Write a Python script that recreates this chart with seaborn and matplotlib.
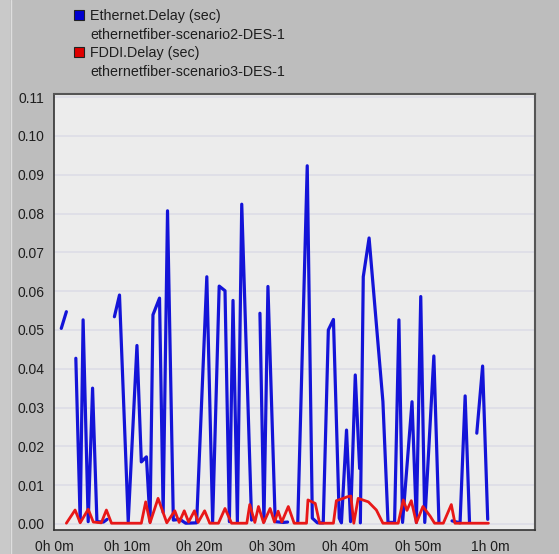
import numpy as np
import pandas as pd
import seaborn as sns
import matplotlib
matplotlib.use("Agg")
import matplotlib.pyplot as plt
from matplotlib.patches import Patch, Rectangle
from matplotlib.lines import Line2D

# time in minutes, delay in seconds; None = gap in the trace
eth_time = [1.0, 1.7, None,
            3.0, 3.6, 4.0, 4.7, 5.3, 5.9, 6.8, 7.3, None,
            8.3, 9.0, 10.2, 11.4, 12.0, 12.7, 13.2, 13.6, 14.5, 15.0, 15.6, 16.4,
            17.3, 18.1, 19.6, 21.0, 21.8, 22.7, 23.5, 24.1, 24.6, 25.2, 25.8, 27.15, None,
            28.3, 28.85, 29.4, 30.4, 31.5, 32.1, None,
            33.5, 34.8, 35.5, 36.2, 37.0, 37.7, 38.4, 39.2, 39.5, 40.2, 40.75, 41.4, 42.0, None,
            42.1, 42.5, 43.3, 45.2, 45.9, 46.8, 47.4, 47.9, 49.2, 49.8, 50.4, 50.95,
            52.2, 52.9, None,
            54.7, 55.8, 56.5, 57.1, None,
            58.1, 58.9, 59.6]
eth_delay = [0.0504, 0.0547, None,
             0.0427, 0.0006, 0.0526, 0.0006, 0.0350, 0.0006, 0.0005, 0.0012, None,
             0.0534, 0.0590, 0.0006, 0.0460, 0.0160, 0.0173, 0.0006, 0.0539, 0.0582, 0.0030, 0.0807, 0.0010,
             0.0012, 0.0002, 0.0003, 0.0637, 0.0006, 0.0613, 0.0601, 0.0006, 0.0576, 0.0006, 0.0824, 0.0010, None,
             0.0543, 0.0006, 0.0612, 0.0006, 0.0004, 0.0005, None,
             0.0004, 0.0923, 0.0015, 0.0003, 0.0003, 0.0500, 0.0527, 0.0015, 0.0003, 0.0242, 0.0006, 0.0384, 0.0143, None,
             0.0003, 0.0637, 0.0737, 0.0315, 0.0004, 0.0004, 0.0526, 0.0004, 0.0315, 0.0004, 0.0586, 0.0004,
             0.0433, 0.0004, None,
             0.0008, 0.0003, 0.0330, 0.0004, None,
             0.0234, 0.0407, 0.0012]

fddi_time = [1.7, 2.9, 3.6, 4.7, 5.4, 6.5, 7.2, 7.9, 12.0, 12.6, 13.2, 14.3, 15.5,
             16.6, 17.2, 17.9, 18.5, 19.3, 19.8, 20.7, 21.4, 22.6, 23.5, 24.4, 26.5,
             26.9, 27.6, 28.1, 28.8, 29.7, 30.3, 30.8, 31.3, 32.2, 33.0, 34.7, 34.9,
             35.9, 36.5, 38.4, 38.8, 39.6, 40.3, 40.8, 41.2, 41.8, 43.2, 44.3, 45.2,
             47.3, 48.0, 48.5, 49.1, 49.8, 50.7, 51.7, 52.3, 53.5, 54.6, 55.1, 59.7]
fddi_delay = [0.0002, 0.0036, 0.0003, 0.0038, 0.0005, 0.0003, 0.0036, 0.0002, 0.0002, 0.0057, 0.0003, 0.0066, 0.0003,
              0.0034, 0.0004, 0.0034, 0.0005, 0.0034, 0.0004, 0.0034, 0.0002, 0.0002, 0.0040, 0.0002, 0.0002,
              0.0050, 0.0004, 0.0045, 0.0003, 0.0040, 0.0005, 0.0033, 0.0005, 0.0045, 0.0002, 0.0002, 0.0062,
              0.0053, 0.0002, 0.0002, 0.0060, 0.0065, 0.0070, 0.0072, 0.0002, 0.0066, 0.0057, 0.0036, 0.0002,
              0.0002, 0.0062, 0.0035, 0.0060, 0.0003, 0.0045, 0.0020, 0.0002, 0.0002, 0.0050, 0.0002, 0.0002]

legend_labels = ["Ethernet.Delay (sec)", "ethernetfiber-scenario2-DES-1",
                 "FDDI.Delay (sec)", "ethernetfiber-scenario3-DES-1"]
x_ticks = [0, 10, 20, 30, 40, 50, 60]
x_ticklabels = ["0h 0m", "0h 10m", "0h 20m", "0h 30m", "0h 40m", "0h 50m", "1h 0m"]
y_ticks = [0.00, 0.01, 0.02, 0.03, 0.04, 0.05, 0.06, 0.07, 0.08, 0.09, 0.10, 0.11]

BLUE = "#1414d8"
RED = "#e81818"


def to_frame(t, v):
    df = pd.DataFrame({"t": t, "v": v}, dtype=float)
    df["seg"] = df["t"].isna().cumsum()
    return df.dropna()


sns.set_style("white")
plt.rcParams["font.family"] = ["Liberation Sans", "DejaVu Sans"]

fig = plt.figure(figsize=(5.59, 5.54), dpi=100)
fig.patch.set_facecolor("#bdbdbd")
# lighter strip at the far left of the window
fig.patches.append(Rectangle((0, 0), 10 / 559, 1, transform=fig.transFigure,
                             facecolor="#c9c9c9", edgecolor="none", zorder=0))
fig.lines.append(Line2D([11 / 559, 11 / 559], [0, 1], transform=fig.transFigure,
                        color="#dedede", lw=1))

ax = fig.add_axes([54 / 559, 1 - 530 / 554, 481 / 559, 436 / 554])
ax.set_facecolor("#ececec")

eth = to_frame(eth_time, eth_delay)
fddi = to_frame(fddi_time, fddi_delay)

sns.lineplot(data=fddi, x="t", y="v", units="seg", estimator=None, sort=False,
             color=RED, lw=2.0, ax=ax, zorder=3)
sns.lineplot(data=eth, x="t", y="v", units="seg", estimator=None, sort=False,
             color=BLUE, lw=2.3, ax=ax, zorder=2)

ax.set_xlim(0, 66.1)
ax.set_ylim(-0.00155, 0.1108)
ax.set_xticks(x_ticks)
ax.set_xticklabels(x_ticklabels)
ax.set_yticks(y_ticks)
ax.set_yticklabels([f"{y:.2f}" for y in y_ticks])
ax.set_xlabel("")
ax.set_ylabel("")

ax.yaxis.grid(True, color="#dcdce6", lw=1.1)
ax.set_axisbelow(True)
ax.tick_params(axis="both", direction="out", length=5, width=1, color="#333333",
               labelsize=10, labelcolor="#1e1e1e", pad=2)
for side in ["left", "bottom"]:
    ax.spines[side].set_color("#333333")
    ax.spines[side].set_linewidth(1.2)
for side in ["top", "right"]:
    ax.spines[side].set_color("#555555")
    ax.spines[side].set_linewidth(1.5)

handles = [Patch(facecolor="#0000d0", edgecolor="#222222", lw=0.8),
           Patch(facecolor="none", edgecolor="none"),
           Patch(facecolor="#e00000", edgecolor="#222222", lw=0.8),
           Patch(facecolor="none", edgecolor="none")]
fig.legend(handles, legend_labels, loc="upper left", bbox_to_anchor=(67 / 559, 1 - 2 / 554),
           frameon=False, fontsize=10.3, handlelength=0.7, handleheight=0.7,
           handletextpad=0.4, labelspacing=0.32, borderpad=0, labelcolor="#1e1e1e")

fig.savefig("out.png", dpi=100, facecolor=fig.get_facecolor())
